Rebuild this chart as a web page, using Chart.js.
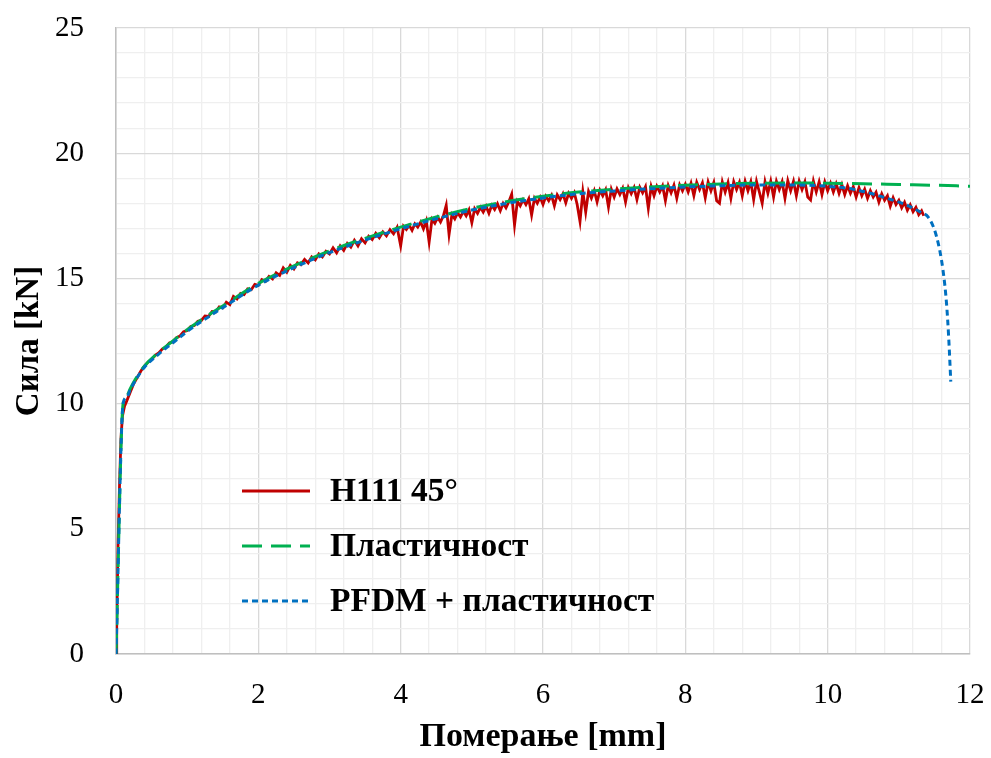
<!DOCTYPE html>
<html>
<head>
<meta charset="utf-8">
<title>Сила – померање</title>
<script src="https://cdn.jsdelivr.net/npm/chart.js@4/dist/chart.umd.min.js"></script>
<style>
  html, body { margin: 0; padding: 0; background: #ffffff; }
  #wrap { width: 991px; height: 758px; }
</style>
</head>
<body>
<div id="wrap"><canvas id="c" width="991" height="758"></canvas></div>
<script>
// Series labels
const seriesLabels = ['H111 45°', 'Пластичност', 'PFDM + пластичност'];

// Axis titles
const xTitle = 'Померање [mm]';
const yTitle = 'Сила [kN]';

// Axis ranges and steps (labels every 2 mm / 5 kN, minor grid between)
const xRange = [0, 12];
const yRange = [0, 25];
const xMajorStep = 2, xMinorStep = 0.4;
const yMajorStep = 5, yMinorStep = 1;

// Measured force–displacement record, H111 45° [mm, kN]
const h111 = [
  [0,0],[0.01,1.2],[0.02,2.8],[0.03,4.5],[0.05,6.8],[0.07,8.6],[0.09,9.5],[0.12,9.9],[0.15,10.1],
  [0.2,10.45],[0.25,10.8],[0.3,11.05],[0.35,11.3],
  [0.40,11.50],[0.45,11.66],[0.50,11.76],[0.55,11.93],[0.60,12.02],[0.65,12.18],[0.70,12.25],
  [0.75,12.42],[0.80,12.47],[0.85,12.63],[0.90,12.70],[0.95,12.87],[1.00,12.92],[1.05,13.08],
  [1.10,13.12],[1.15,13.29],[1.20,13.32],[1.25,13.50],[1.30,13.48],[1.35,13.68],[1.40,13.66],
  [1.45,13.86],[1.50,13.82],[1.55,14.05],[1.60,13.95],[1.65,14.28],[1.70,14.18],[1.75,14.40],
  [1.80,14.35],[1.85,14.58],[1.90,14.55],[1.95,14.76],[2.00,14.72],[2.05,14.95],[2.10,14.88],
  [2.15,15.08],[2.20,14.98],[2.25,15.22],[2.30,15.12],[2.35,15.42],[2.40,15.25],[2.45,15.52],
  [2.50,15.38],[2.55,15.62],[2.60,15.55],[2.65,15.76],[2.70,15.62],[2.75,15.86],[2.80,15.74],
  [2.85,15.98],[2.90,15.86],[2.95,16.08],[3.00,15.98],[3.05,16.22],[3.10,16.02],[3.15,16.30],
  [3.20,16.12],[3.25,16.40],[3.30,16.25],[3.35,16.52],[3.40,16.30],[3.45,16.58],[3.50,16.42],
  [3.55,16.68],[3.60,16.55],[3.65,16.80],[3.70,16.62],[3.75,16.86],[3.80,16.70],[3.85,16.95],
  [3.90,16.78],[3.95,17.04],
  [4.00,16.30],[4.04,17.08],[4.08,16.95],[4.12,17.12],[4.16,16.92],[4.20,17.18],[4.24,17.05],
  [4.28,17.25],[4.32,16.98],[4.36,17.30],[4.40,16.45],[4.44,17.36],[4.48,17.20],[4.52,17.44],
  [4.56,17.25],[4.60,17.50],[4.64,17.92],[4.68,16.75],[4.72,17.55],[4.76,17.38],[4.80,17.62],
  [4.84,17.45],[4.88,17.68],[4.92,17.50],[4.96,17.74],[5.00,17.22],[5.04,17.78],[5.08,17.60],
  [5.12,17.84],[5.16,17.65],[5.20,17.88],[5.24,17.60],[5.28,17.92],[5.32,17.75],[5.36,17.98],
  [5.40,17.70],[5.44,18.00],[5.48,17.82],[5.52,18.06],[5.56,18.36],[5.60,17.13],[5.64,18.08],
  [5.68,17.90],[5.72,18.14],[5.76,17.95],[5.80,18.18],[5.84,17.53],[5.88,18.20],[5.92,18.00],
  [5.96,18.24],[6.00,17.95],[6.04,18.28],[6.08,18.10],[6.12,18.32],[6.16,17.90],[6.20,18.34],
  [6.24,18.15],[6.28,18.38],[6.32,18.02],[6.36,18.40],[6.40,18.20],[6.44,18.42],[6.48,17.95],
  [6.52,17.27],[6.56,18.46],[6.60,17.65],[6.64,18.48],[6.68,18.20],[6.72,18.50],[6.76,18.05],
  [6.80,18.52],[6.84,18.30],[6.88,18.54],[6.92,17.85],[6.96,18.56],[7.00,18.25],[7.04,18.58],
  [7.08,18.35],[7.12,18.60],[7.16,18.05],[7.20,18.62],[7.24,18.38],[7.28,18.63],[7.32,18.15],
  [7.36,18.64],[7.40,18.42],[7.44,18.66],[7.48,17.80],[7.52,18.67],[7.56,18.30],[7.60,18.68],
  [7.64,18.45],[7.68,18.70],[7.72,18.10],[7.76,18.71],[7.80,18.42],[7.84,18.72],[7.88,18.20],
  [7.92,18.74],[7.96,18.50],[8.00,18.76],[8.04,18.45],[8.08,18.80],[8.12,18.30],[8.16,18.84],
  [8.20,18.55],[8.24,18.82],[8.28,18.22],[8.32,18.85],[8.36,18.50],[8.40,18.83],[8.44,18.10],
  [8.48,18.00],[8.52,18.85],[8.56,18.45],[8.60,18.83],[8.64,18.20],[8.68,18.86],[8.72,18.55],
  [8.76,18.84],[8.80,18.30],[8.84,18.88],[8.88,18.50],[8.92,18.86],[8.96,18.15],[9.00,18.88],
  [9.04,18.45],[9.08,18.00],[9.12,18.86],[9.16,18.40],[9.20,18.88],[9.24,18.25],[9.28,18.88],
  [9.32,18.55],[9.36,18.86],[9.40,18.20],[9.44,18.90],[9.48,18.50],[9.52,18.88],[9.56,18.30],
  [9.60,18.88],[9.64,18.55],[9.68,18.86],[9.72,18.25],[9.76,18.13],[9.80,18.88],[9.84,18.45],
  [9.88,18.86],[9.92,18.35],[9.96,18.85],[10.00,18.50],[10.04,18.80],[10.08,18.45],[10.12,18.78],
  [10.16,18.40],[10.20,18.74],[10.24,18.35],[10.28,18.70],[10.32,18.40],[10.36,18.66],[10.40,18.25],
  [10.44,18.62],[10.48,18.30],[10.52,18.56],[10.56,18.20],[10.60,18.50],[10.64,18.25],[10.68,18.44],
  [10.72,18.05],[10.76,18.38],[10.80,18.12],[10.84,18.30],[10.88,17.88],[10.92,18.22],[10.96,17.95],
  [11.00,18.12],[11.04,17.82],[11.08,18.04],[11.12,17.72],[11.16,17.94],[11.20,17.66],[11.24,17.84],
  [11.28,17.55],[11.32,17.70],[11.35,17.50]
];

// Simulation: plasticity model only [mm, kN]
const plasticity = [
  [0,0],[0.1,10.0],[0.15,10.3],[0.2,10.6],[0.3,11.1],[0.4,11.5],[0.6,12.05],[0.8,12.5],[1.0,12.95],
  [1.2,13.35],[1.5,13.9],[2.0,14.8],[2.5,15.5],[3.0,16.1],[3.5,16.6],[4.0,17.05],[4.5,17.45],
  [5.0,17.8],[5.5,18.07],[6.0,18.28],[6.5,18.45],[7.0,18.56],[7.5,18.65],[8.0,18.72],[8.5,18.77],
  [9.0,18.8],[9.5,18.81],[10.0,18.8],[10.5,18.78],[11.0,18.75],[11.5,18.72],[12.0,18.68]
];

// Simulation: PFDM damage + plasticity [mm, kN]
const pfdm = [
  [0,0],[0.1,10.0],[0.15,10.25],[0.2,10.55],[0.3,11.05],[0.4,11.45],[0.6,11.98],[0.8,12.43],
  [1.0,12.88],[1.2,13.28],[1.5,13.83],[2.0,14.73],[2.5,15.43],[3.0,16.03],[3.5,16.53],[4.0,16.98],
  [4.5,17.38],[5.0,17.73],[5.5,18.0],[6.0,18.21],[6.5,18.38],[7.0,18.49],[7.5,18.58],[8.0,18.65],
  [8.5,18.7],[9.0,18.73],[9.5,18.73],[10.0,18.68],[10.36,18.56],[10.6,18.4],[10.83,18.2],
  [11.11,17.93],[11.32,17.62],[11.41,17.46],[11.53,16.67],[11.62,15.34],[11.67,14.0],
  [11.70,12.67],[11.73,10.88]
];

const FONT = '"Liberation Serif", "DejaVu Serif", serif';
const GRID_MAJOR = '#d9d9d9';
const GRID_MINOR = '#efefef';
const AXIS_LINE = '#bfbfbf';

const toXY = arr => arr.map(p => ({ x: p[0], y: p[1] }));
const isMultiple = (v, step) => Math.abs(v / step - Math.round(v / step)) < 1e-6;

// Legend drawn inside the plot area, reading each dataset's own style
const innerLegend = {
  id: 'innerLegend',
  afterDraw(chart) {
    const { ctx, data } = chart;
    const x0 = 242, x1 = 310, tx = 330;
    const rows = [491, 546, 601];
    ctx.save();
    ctx.font = 'bold 33.5px ' + FONT;
    ctx.textBaseline = 'middle';
    ctx.fillStyle = '#000000';
    data.datasets.forEach((ds, i) => {
      const y = rows[i];
      ctx.beginPath();
      ctx.setLineDash(ds.borderDash || []);
      ctx.lineWidth = ds.borderWidth;
      ctx.strokeStyle = ds.borderColor;
      ctx.moveTo(x0, y);
      ctx.lineTo(x1, y);
      ctx.stroke();
      ctx.setLineDash([]);
      ctx.fillText(ds.label, tx, y + 1);
    });
    ctx.restore();
  }
};

new Chart(document.getElementById('c'), {
  type: 'line',
  data: {
    datasets: [
      {
        label: seriesLabels[0], data: toXY(h111),
        borderColor: '#C00000', borderWidth: 2.8, pointRadius: 0, tension: 0, order: 3
      },
      {
        label: seriesLabels[1], data: toXY(plasticity),
        borderColor: '#00B050', borderWidth: 3, borderDash: [20, 9], pointRadius: 0,
        cubicInterpolationMode: 'monotone', order: 2
      },
      {
        label: seriesLabels[2], data: toXY(pfdm),
        borderColor: '#0070C0', borderWidth: 3, borderDash: [6, 4], pointRadius: 0,
        cubicInterpolationMode: 'monotone', order: 1
      }
    ]
  },
  options: {
    responsive: false,
    animation: false,
    devicePixelRatio: 1,
    layout: { padding: { left: 0, right: 21, top: 28, bottom: 0 } },
    plugins: { legend: { display: false }, tooltip: { enabled: false } },
    scales: {
      x: {
        type: 'linear', min: xRange[0], max: xRange[1],
        afterFit(s) { s.height = 104; s.paddingLeft = 0; s.paddingRight = 0; },
        border: { display: true, color: AXIS_LINE, width: 1.5 },
        grid: {
          drawTicks: false, lineWidth: 1.3,
          color: c => (c.tick && isMultiple(c.tick.value, xMajorStep)) ? GRID_MAJOR : GRID_MINOR
        },
        ticks: {
          stepSize: xMinorStep, maxTicksLimit: 200, autoSkip: false, maxRotation: 0,
          padding: 24, color: '#000000', font: { family: FONT, size: 29 },
          callback: v => isMultiple(v, xMajorStep) ? String(Math.round(v)) : ''
        },
        title: {
          display: true, text: xTitle, color: '#000000',
          font: { family: FONT, size: 34, weight: 'bold' }, padding: { top: 0, bottom: 0 }
        }
      },
      y: {
        type: 'linear', min: yRange[0], max: yRange[1],
        afterFit(s) { s.width = 116; s.paddingTop = 0; s.paddingBottom = 0; },
        border: { display: true, color: AXIS_LINE, width: 1.5 },
        grid: {
          drawTicks: false, lineWidth: 1.3,
          color: c => (c.tick && isMultiple(c.tick.value, yMajorStep)) ? GRID_MAJOR : GRID_MINOR
        },
        ticks: {
          stepSize: yMinorStep, maxTicksLimit: 200, autoSkip: false,
          padding: 32, color: '#000000', font: { family: FONT, size: 29 },
          callback: v => isMultiple(v, yMajorStep) ? String(Math.round(v)) : ''
        },
        title: {
          display: true, text: yTitle, color: '#000000',
          font: { family: FONT, size: 33, weight: 'bold' }, padding: { top: 10, bottom: 0 }
        }
      }
    }
  },
  plugins: [innerLegend]
});
</script>
</body>
</html>
